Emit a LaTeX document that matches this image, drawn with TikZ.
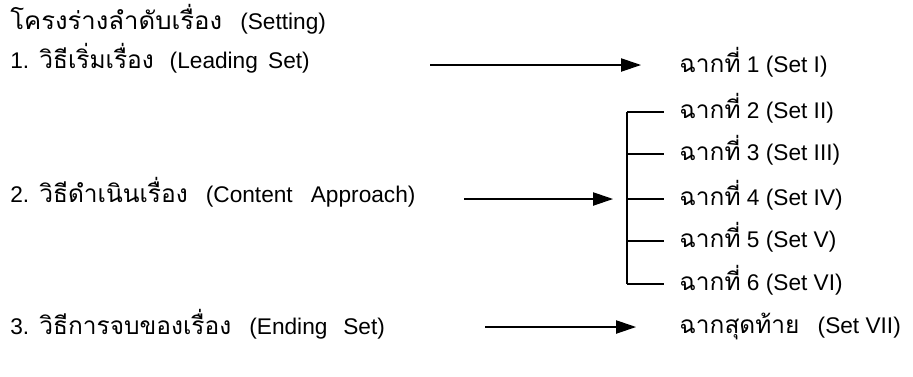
\documentclass[tikz,border=0pt]{standalone}
\usepackage{fontspec}
\setmainfont{Liberation Sans}
\newfontfamily\thaifont[Script=Thai,Scale=1.08]{Loma}
\newfontfamily\thaiwide[Script=Thai,Scale=1.08,FakeStretch=1.05]{Loma}
\usetikzlibrary{positioning, arrows.meta}
\tikzstyle{line} = [draw, line width=0.9pt, -{Triangle[length=15pt,width=10pt]}]
\tikzstyle{txt} = [anchor=base west, inner sep=0pt, font=\fontsize{17}{20}\selectfont]
\newcommand{\thai}[1]{{\thaifont #1}}
\newcommand{\nsp}{\hspace{0.45em}}

\begin{document}
\begin{tikzpicture}[x=0.75pt,y=-0.75pt]
\useasboundingbox (0,0) rectangle (913,376);
% left column
\node[txt] (title) at (10,29) {{\thaiwide โครงร่างลำดับเรื่อง}\hspace{0.8em}(Setting)};
\node[txt] (lead) at (10,68) {1.\nsp\thai{วิธีเริ่มเรื่อง}\hspace{0.7em}(Leading\nsp Set)};
\node[txt] (content) at (10,202) {2.\nsp\thai{วิธีดำเนินเรื่อง}\hspace{0.8em}(Content\hspace{0.8em}Approach)};
\node[txt] (ending) at (10,334) {3.\nsp\thai{วิธีการจบของเรื่อง}\hspace{0.8em}(Ending\hspace{0.7em}Set)};
% right column
\node[txt] (set1) at (679,72) {\thai{ฉากที่} 1 (Set I)};
\foreach \i/\y/\r in {2/118/II, 3/160/III, 4/205/IV, 5/247/V, 6/290/VI}
  \node[txt] (set\i) at (679,\y) {\thai{ฉากที่} \i\ (Set \r)};
\node[txt] (set7) at (679,333) {\thai{ฉากสุดท้าย}\hspace{0.8em}(Set VII)};
% arrows
\coordinate (leadtail) at (430,65);
\coordinate (leadhead) at (641,65);
\coordinate (contenttail) at (464,199);
\coordinate (contenthead) at (613,199);
\coordinate (endingtail) at (485,327);
\coordinate (endinghead) at (636,327);
\draw[line] (leadtail) -- (leadhead);
\draw[line] (contenttail) -- (contenthead);
\draw[line] (endingtail) -- (endinghead);
% bracket
\coordinate (brtop) at (627,112);
\coordinate (brbot) at (627,284);
\draw[line width=0.9pt] (brtop) -- (brbot);
\foreach \y in {112, 154, 199, 241, 284}
  \draw[line width=0.9pt] (brtop |- 0,\y) -- (664,\y);
\end{tikzpicture}
\end{document}
